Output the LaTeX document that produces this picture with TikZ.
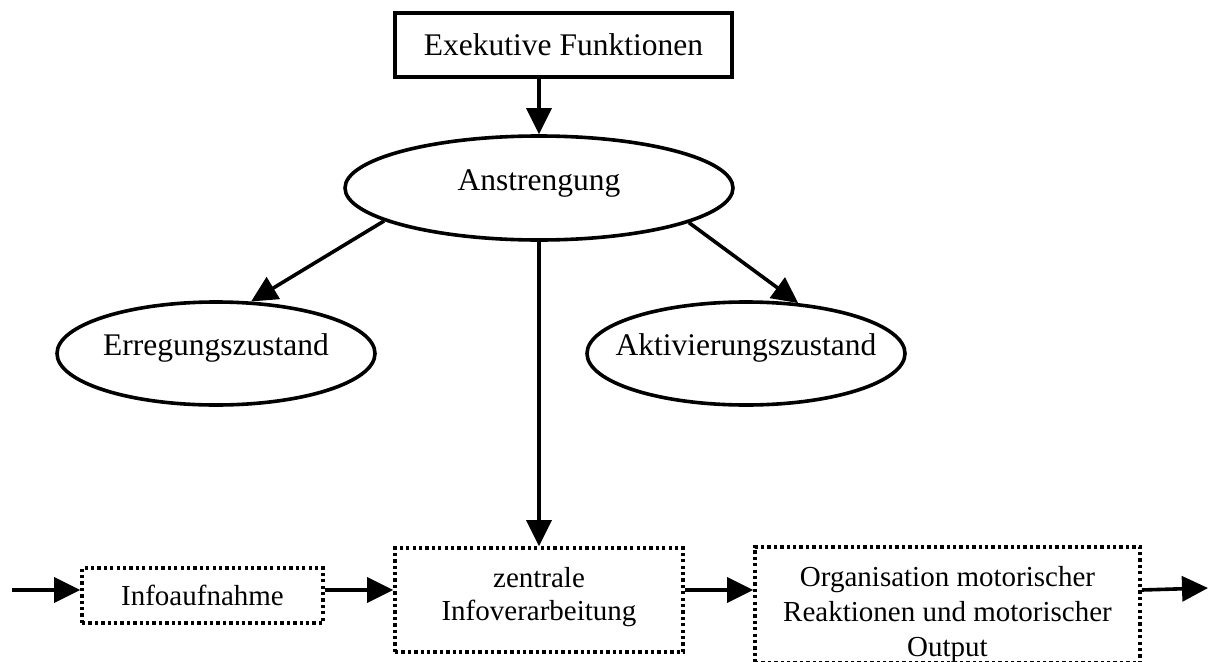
\documentclass[tikz,border=0pt]{standalone}
\usepackage{fontspec}
\setmainfont{Liberation Serif}
\usetikzlibrary{arrows.meta,shapes.geometric}
\begin{document}
\begin{tikzpicture}[x=1pt,y=-1pt,
  conn/.style={-{Triangle[length=26pt,width=25pt]}, line width=3.6pt},
  solidbox/.style={draw, rectangle, line width=3.8pt, inner sep=0pt,
    font=\fontsize{31.5}{33.5}\selectfont},
  oval/.style={draw, ellipse, line width=3.6pt, inner sep=0pt},
  ovaltext/.style={inner sep=0pt, text height=13pt, text depth=9pt,
    font=\fontsize{31.5}{33.5}\selectfont},
  dotbox/.style={draw, rectangle, line width=3.6pt, dash pattern=on 3.3pt off 3.1pt,
    inner sep=0pt, align=center, font=\fontsize{29}{33.5}\selectfont}]
\useasboundingbox (0,0) rectangle (1209,661);
\clip (0,0) rectangle (1209,661);

\node[solidbox, minimum width=337pt, minimum height=64pt] (exe) at (563.5,45) {Exekutive Funktionen};
\node[oval, minimum width=388pt, minimum height=104pt,
  label={[ovaltext]center:Anstrengung}] (ans) at (539,188) {};
\node[oval, minimum width=318pt, minimum height=103pt,
  label={[ovaltext]center:Erregungszustand}] (err) at (216,353.5) {};
\node[oval, minimum width=318pt, minimum height=103pt,
  label={[ovaltext]center:Aktivierungszustand}] (akt) at (746,353.5) {};

\node[dotbox, minimum width=241pt, minimum height=55pt] (info) at (202.5,595.5) {Infoaufnahme};
\node[dotbox, minimum width=288pt, minimum height=104pt] (zen) at (539,600)
  {zentrale\\Infoverarbeitung\rule[-12pt]{0pt}{12pt}};
\node[dotbox, minimum width=385pt, minimum height=112pt,
  font=\fontsize{29}{35}\selectfont] (org) at (947.5,605)
  {\rule{0pt}{40pt}Organisation motorischer\\Reaktionen und motorischer\\Output};

\coordinate (in) at (12,590);
\coordinate (out) at (1208,588);

\draw[conn] (ans.north |- exe.south) -- (ans.north);
\draw[conn] (ans.192.6) -- (err.56);
\draw[conn] (ans.347) -- (akt.44);
\draw[conn] (ans.south) -- (zen.north);
\draw[conn] (in) -- (info.west |- in);
\draw[conn] (info.east |- in) -- (zen.west |- in);
\draw[conn] (zen.east |- in) -- (org.west |- in);
\draw[conn] (org.east |- in) -- (out);
\end{tikzpicture}
\end{document}
